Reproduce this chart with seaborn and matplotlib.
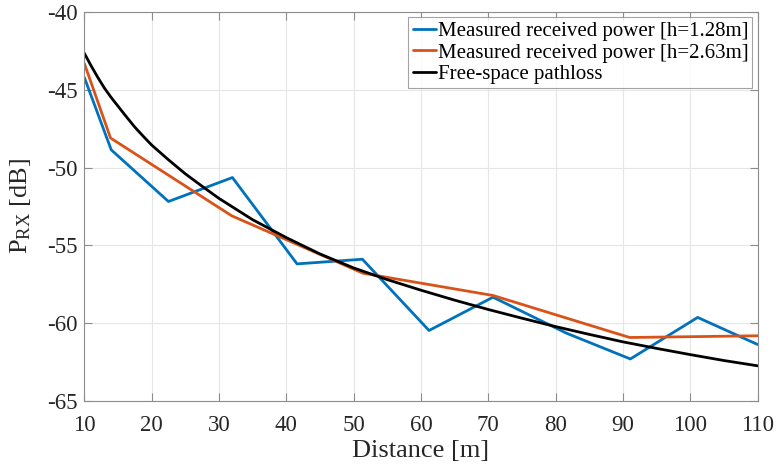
import numpy as np
import pandas as pd
import matplotlib
matplotlib.use("Agg")
import matplotlib.pyplot as plt
import seaborn as sns

# measured received power, h = 1.28 m
dist_low = [10, 14, 22.5, 32, 41.6, 51.3, 61.2, 70.7, 81.6, 91.1, 101.1, 110]
prx_low = [-44.2, -48.86, -52.18, -50.64, -56.19, -55.89, -60.47, -58.33, -60.64, -62.3, -59.63, -61.37]

# measured received power, h = 2.63 m
dist_high = [10, 13.9, 31.9, 51.4, 70.7, 91.0, 110]
prx_high = [-43.3, -48.1, -53.1, -56.79, -58.22, -60.92, -60.81]

# free-space pathloss
dist_fs = [10, 11, 12, 13, 14, 15, 16, 17.5, 19, 20, 22.5, 25, 27.5, 30, 35, 40, 45, 50, 55, 60, 65, 70,
           75, 80, 85, 90, 95, 100, 105, 110]
prx_fs = [-42.65, -43.45, -44.2, -44.9, -45.5, -46.05, -46.6, -47.4, -48.1, -48.55, -49.5, -50.4, -51.2,
          -51.98, -53.35, -54.5, -55.55, -56.45, -57.2, -57.88, -58.52, -59.12, -59.68, -60.22, -60.72,
          -61.2, -61.62, -62.02, -62.4, -62.74]

labels = ["Measured received power [h=1.28m]", "Measured received power [h=2.63m]", "Free-space pathloss"]
colors = ["#0072BD", "#D95319", "#000000"]

sns.set_style("whitegrid")
plt.rcParams["font.family"] = ["Liberation Serif", "DejaVu Serif"]
plt.rcParams["mathtext.fontset"] = "custom"
plt.rcParams["mathtext.rm"] = "Liberation Serif"
plt.rcParams["mathtext.it"] = "Liberation Serif:italic"
plt.rcParams["axes.unicode_minus"] = False

fig = plt.figure(figsize=(7.82, 4.68), dpi=100)
ax = fig.add_axes([0.1078, 0.1432, 0.861, 0.8312])

series = [(dist_low, prx_low), (dist_high, prx_high), (dist_fs, prx_fs)]
for (d, p), lab, c in zip(series, labels, colors):
    df = pd.DataFrame({"d": d, "p": p})
    sns.lineplot(data=df, x="d", y="p", ax=ax, color=c, lw=2.0, label=lab, sort=False)

ax.set_xlim(10, 110)
ax.set_ylim(-65, -40)
ax.set_xticks(np.arange(10, 111, 10))
ax.set_yticks(np.arange(-65, -39, 5))
ax.grid(True, color="#e6e6e6", lw=0.8)
for s in ax.spines.values():
    s.set_color("#8c8c8c")
    s.set_linewidth(0.8)
ax.tick_params(direction="in", length=6, width=0.8, color="#8c8c8c", labelsize=16.5,
               labelcolor="#262626", top=True, right=True, bottom=True, left=True)
ax.tick_params(axis="x", pad=10)
ax.tick_params(axis="y", pad=5)
ax.set_xlabel("Distance [m]", fontsize=19, color="#262626", labelpad=3)
ax.set_ylabel(r"P$_{\mathrm{RX}}$ [dB]", fontsize=19, color="#262626", labelpad=10)

leg = ax.legend(loc="upper right", fontsize=15, frameon=True, fancybox=False, handlelength=1.1,
                handletextpad=0.1, borderpad=0.2, labelspacing=0.1, borderaxespad=0.25)
leg.get_frame().set_edgecolor("#8c8c8c")
leg.get_frame().set_linewidth(0.8)
for t in leg.get_texts():
    t.set_color("#000000")

fig.savefig("out.png", dpi=100)
